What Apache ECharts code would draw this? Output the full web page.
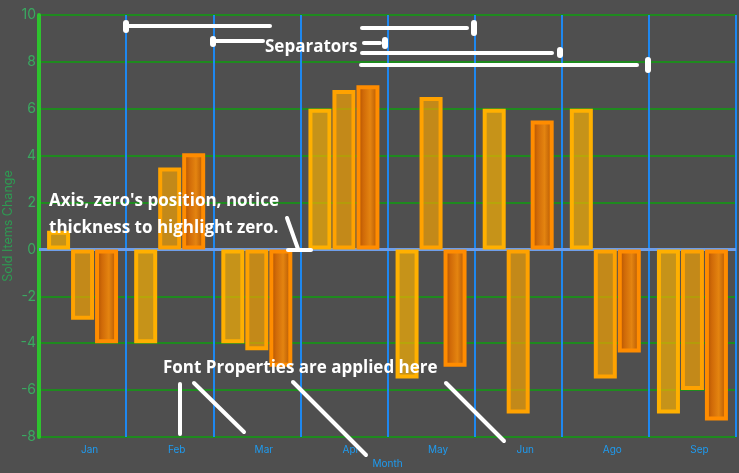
<!DOCTYPE html>
<html>
<head>
<meta charset="utf-8">
<script src="https://cdn.jsdelivr.net/npm/echarts@6/dist/echarts.min.js"></script>
<style>
  html, body { margin: 0; padding: 0; background: #4f4f4f; }
  #chart { width: 739px; height: 473px; }
</style>
</head>
<body>
<div id="chart"></div>
<script>
const months = ['Jan', 'Feb', 'Mar', 'Apr', 'May', 'Jun', 'Ago', 'Sep'];
const series1 = [0.8, -4, -4, 6, -5.5, 6, 6, -7];
const series2 = [-3, 3.5, -4.3, 6.8, 6.5, -7, -5.5, -6];
const series3 = [-4, 4.1, -5, 7, -5, 5.5, -4.4, -7.3];
const yTicks = { min: -8, max: 10, step: 2 };

const chart = echarts.init(document.getElementById('chart'), null, { renderer: 'canvas' });

const woodFill = new echarts.graphic.LinearGradient(0, 0, 1, 0, [
  { offset: 0, color: '#a34800' },
  { offset: 0.3, color: '#d06a08' },
  { offset: 0.6, color: '#e48410' },
  { offset: 1, color: '#a84c00' }
]);

const font = '"Open Sans", sans-serif';
const white = '#ffffff';
function seg(x1, y1, x2, y2, w) {
  return { type: 'line', shape: { x1, y1, x2, y2 }, style: { stroke: white, lineWidth: w || 4, lineCap: 'round' }, z: 100 };
}
function cap(x, y1, y2) {
  return { type: 'line', shape: { x1: x, y1: y1, x2: x, y2: y2 }, style: { stroke: white, lineWidth: 6, lineCap: 'round' }, z: 100 };
}
function label(text, x, y) {
  return { type: 'text', x: x, y: y, style: { text: text, fill: white, font: 'bold 17px ' + font, textVerticalAlign: 'middle' }, z: 100 };
}

chart.setOption({
  backgroundColor: '#4f4f4f',
  animation: false,
  grid: { left: 39, right: 3, top: 15, bottom: 36, containLabel: false, outerBoundsMode: 'none' },
  xAxis: {
    type: 'category',
    data: months,
    name: 'Month',
    nameLocation: 'middle',
    nameGap: 22,
    nameMoveOverlap: false,
    nameTextStyle: { color: '#1e9bf0', fontSize: 10, fontFamily: 'Inter, sans-serif' },
    axisLine: { show: false, onZero: false },
    axisTick: { show: false },
    axisLabel: { color: '#1e9bf0', fontSize: 10, margin: 8, fontFamily: 'Inter, sans-serif', padding: [0, 0, 0, 14] },
    splitLine: { show: true, lineStyle: { color: '#1e88f0', width: 2 } }
  },
  yAxis: {
    type: 'value',
    min: yTicks.min,
    max: yTicks.max,
    interval: yTicks.step,
    name: 'Sold Items Change',
    nameLocation: 'middle',
    nameGap: 24,
    nameMoveOverlap: false,
    nameTextStyle: { color: '#2e9a52', fontSize: 12.5, fontFamily: 'Inter, sans-serif' },
    axisLine: { show: true, lineStyle: { color: '#2ec22e', width: 4 } },
    axisTick: { show: false },
    axisLabel: { color: '#3aa860', fontSize: 14, margin: 3, fontFamily: 'Inter, sans-serif' },
    splitLine: { show: true, lineStyle: { color: '#1f8a1f', width: 2 } }
  },
  series: [
    {
      type: 'bar',
      data: series1,
      barWidth: 23,
      barGap: '4.3%',
      itemStyle: { color: 'rgba(255,180,0,0.68)', borderColor: '#ffb000', borderWidth: 4 },
      markLine: {
        silent: true,
        symbol: ['none', 'none'],
        label: { show: false },
        lineStyle: { color: '#6d9eeb', width: 3, type: 'solid' },
        data: [{ yAxis: 0 }],
        z: 1
      }
    },
    {
      type: 'bar',
      data: series2,
      barWidth: 23,
      barGap: '4.3%',
      itemStyle: { color: 'rgba(250,165,0,0.68)', borderColor: '#ffa200', borderWidth: 4 }
    },
    {
      type: 'bar',
      data: series3,
      barWidth: 23,
      barGap: '4.3%',
      itemStyle: { color: woodFill, borderColor: '#ff8c00', borderWidth: 4 }
    }
  ],
  graphic: [
    // Separators annotation
    seg(128, 26, 270, 26), cap(126, 23, 30),
    seg(215, 41, 263, 41), cap(213, 39, 44),
    label('Separators', 265, 47),
    seg(362, 28, 467, 28), cap(474, 23, 33),
    seg(364, 43, 380, 43), cap(385, 40, 46),
    seg(362, 53, 552, 53), cap(560, 50, 55),
    seg(361, 65, 637, 65), cap(648, 60, 70),
    // Axis annotation
    label("Axis, zero's position, notice", 49, 201),
    label('thickness to highlight zero.', 49, 228),
    seg(287, 218, 298, 249), seg(288, 250, 311, 250),
    // Font annotation
    label('Font Properties are applied here', 163, 368),
    seg(180, 384, 180, 434), seg(194, 383, 244, 432),
    seg(293, 382, 366, 455), seg(446, 383, 504, 441)
  ]
});
</script>
</body>
</html>
